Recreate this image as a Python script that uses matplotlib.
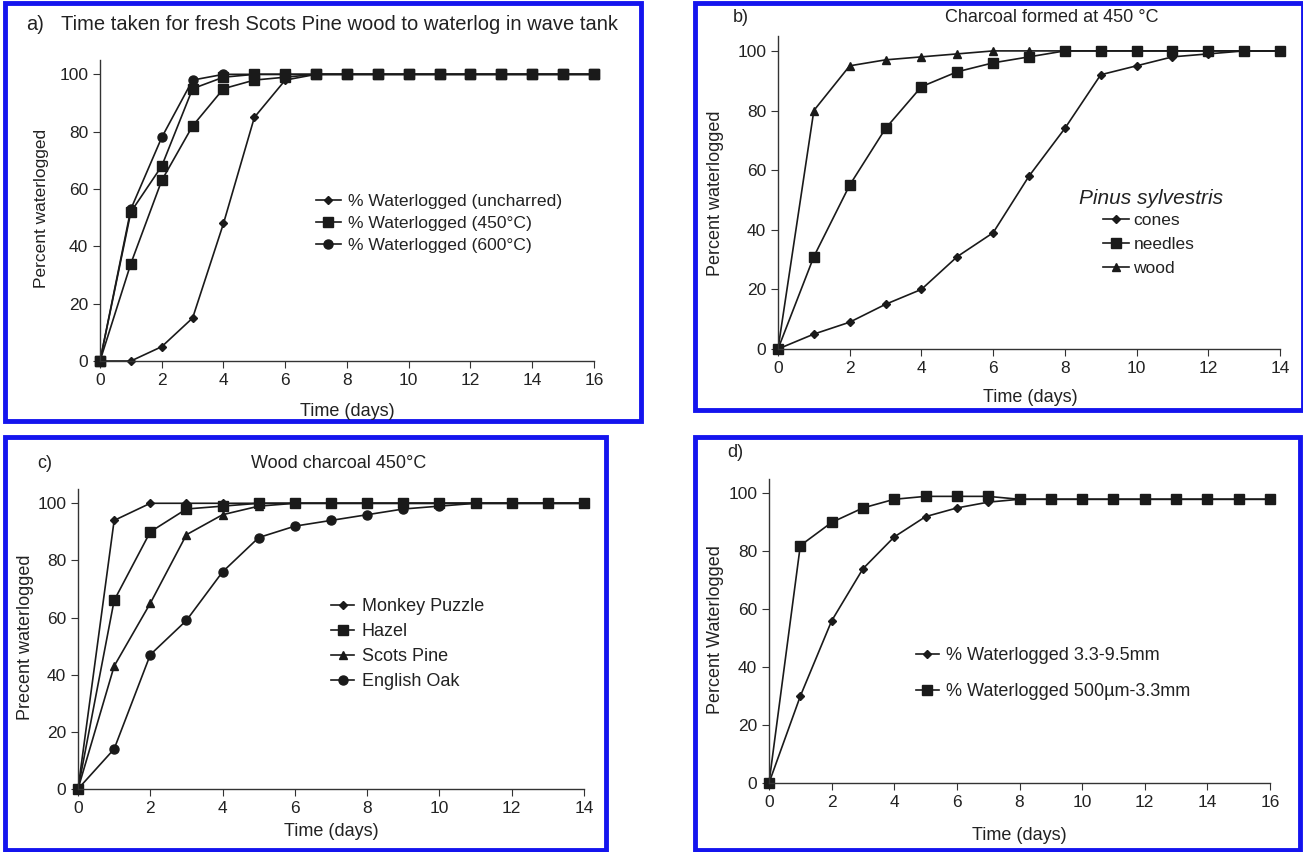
import numpy as np
import matplotlib
matplotlib.use("Agg")
import matplotlib.pyplot as plt
from matplotlib.patches import Rectangle

plt.rcParams['font.family'] = ['Liberation Sans', 'DejaVu Sans']

W, H = 1303, 852

# panel a
days_a = list(range(17))
a_uncharred = [0, 0, 5, 15, 48, 85, 98] + [100] * 10
a_450 = [0, 34, 63, 82, 95, 98, 99] + [100] * 10
a_450b = [0, 52, 68, 95, 99, 100, 100] + [100] * 10
a_600 = [0, 53, 78, 98, 100, 100, 100] + [100] * 10

# panel b
days_b = list(range(15))
b_cones = [0, 5, 9, 15, 20, 31, 39, 58, 74, 92, 95, 98, 99, 100, 100]
b_needles = [0, 31, 55, 74, 88, 93, 96, 98, 100, 100, 100, 100, 100, 100, 100]
b_wood = [0, 80, 95, 97, 98, 99, 100, 100, 100, 100, 100, 100, 100, 100, 100]

# panel c
days_c = list(range(15))
c_monkey = [0, 94, 100, 100, 100, 100, 100, 100, 100, 100, 100, 100, 100, 100, 100]
c_hazel = [0, 66, 90, 98, 99, 100, 100, 100, 100, 100, 100, 100, 100, 100, 100]
c_pine = [0, 43, 65, 89, 96, 99, 100, 100, 100, 100, 100, 100, 100, 100, 100]
c_oak = [0, 14, 47, 59, 76, 88, 92, 94, 96, 98, 99, 100, 100, 100, 100]

# panel d
days_d = list(range(17))
d_coarse = [0, 30, 56, 74, 85, 92, 95, 97] + [98] * 9
d_fine = [0, 82, 90, 95, 98, 99, 99, 99] + [98] * 9

TXT = '#222222'


def fx(x):
    return x / W


def fy(y):
    return 1 - y / H


def make_ax(l, t, r, b, xmax):
    ax = fig.add_axes([fx(l), fy(b), (r - l) / W, (b - t) / H])
    ax.set_xlim(0, xmax)
    ax.set_ylim(0, 105)
    ax.set_xticks(range(0, xmax + 1, 2))
    ax.set_yticks(range(0, 101, 20))
    ax.spines['top'].set_visible(False)
    ax.spines['right'].set_visible(False)
    for s in ['left', 'bottom']:
        ax.spines[s].set_color('#333333')
        ax.spines[s].set_linewidth(1.0)
    ax.tick_params(labelsize=12.5, length=5, color='#333333', labelcolor=TXT)
    return ax


def line(ax, x, y, m, ms, label=None):
    return ax.plot(x, y, color='#1a1a1a', lw=1.2, marker=m, ms=ms,
                   clip_on=False, label=label)[0]


def legend(ax, l, t, r, b, x, y, size, spacing, hl, pad, handles=None):
    kw = dict(loc='upper left', bbox_to_anchor=((x - l) / (r - l), (b - y) / (b - t)),
              frameon=False, fontsize=size, handlelength=hl, handletextpad=pad,
              borderpad=0, borderaxespad=0, labelspacing=spacing, labelcolor=TXT)
    if handles:
        ax.legend(handles, [h.get_label() for h in handles], **kw)
    else:
        ax.legend(**kw)


def border(x0, y0, x1, y1):
    fig.patches.append(Rectangle((fx(x0), fy(y1)), (x1 - x0) / W, (y1 - y0) / H,
                                 transform=fig.transFigure, fill=False,
                                 edgecolor='#1414ee', lw=3.5))


def ftext(x, y, s, **kw):
    kw.setdefault('color', TXT)
    kw.setdefault('va', 'center')
    fig.text(fx(x), fy(y), s, **kw)


fig = plt.figure(figsize=(W / 100, H / 100), dpi=100)

# ---- a)
box = (100, 60, 594, 361)
ax = make_ax(*box, 16)
h1 = line(ax, days_a, a_uncharred, 'D', 4.5, '% Waterlogged (uncharred)')
h3 = line(ax, days_a, a_600, 'o', 6.5, '% Waterlogged (600°C)')
line(ax, days_a, a_450b, 's', 6.5)
h2 = line(ax, days_a, a_450, 's', 6.5, '% Waterlogged (450°C)')
legend(ax, *box, 316, 194, 12.6, 0.38, 1.4, 0.4, handles=[h1, h2, h3])
ftext(26, 25, 'a)', fontsize=14.5)
ftext(61, 25, 'Time taken for fresh Scots Pine wood to waterlog in wave tank', fontsize=14.5)
ftext(42, 208, 'Percent waterlogged', rotation=90, fontsize=12.5, ha='center')
ftext(347, 411, 'Time (days)', fontsize=13, ha='center')
border(5, 3, 641, 421)

# ---- b)
box = (778, 36, 1280, 349)
ax = make_ax(*box, 14)
line(ax, days_b, b_cones, 'D', 4.5, 'cones')
line(ax, days_b, b_needles, 's', 6.5, 'needles')
line(ax, days_b, b_wood, '^', 6, 'wood')
legend(ax, *box, 1103, 213, 12.5, 0.5, 1.5, 0.25)
ftext(1079, 199, 'Pinus sylvestris', fontsize=15, style='italic')
ftext(733, 18, 'b)', fontsize=13)
ftext(1052, 18, 'Charcoal formed at 450 °C', fontsize=13, ha='center')
ftext(715, 193, 'Percent waterlogged', rotation=90, fontsize=13, ha='center')
ftext(1030, 398, 'Time (days)', fontsize=13, ha='center')
border(695, 3, 1303, 410)

# ---- c)
box = (78, 489, 584, 789)
ax = make_ax(*box, 14)
line(ax, days_c, c_monkey, 'D', 4.5, 'Monkey Puzzle')
line(ax, days_c, c_hazel, 's', 6.5, 'Hazel')
line(ax, days_c, c_pine, '^', 6, 'Scots Pine')
line(ax, days_c, c_oak, 'o', 6.5, 'English Oak')
legend(ax, *box, 331, 598, 13, 0.45, 1.3, 0.4)
ftext(37, 463, 'c)', fontsize=13)
ftext(339, 463, 'Wood charcoal 450°C', fontsize=13, ha='center')
ftext(26, 637, 'Precent waterlogged', rotation=90, fontsize=13, ha='center')
ftext(331, 832, 'Time (days)', fontsize=13, ha='center')
border(5, 437, 606, 850)

# ---- d)
box = (769, 479, 1270, 783)
ax = make_ax(*box, 16)
line(ax, days_d, d_coarse, 'D', 4.5, '% Waterlogged 3.3-9.5mm')
line(ax, days_d, d_fine, 's', 6.5, '% Waterlogged 500µm-3.3mm')
legend(ax, *box, 916, 647, 13, 1.05, 1.25, 0.4)
ftext(727, 453, 'd)', fontsize=13)
ftext(716, 630, 'Percent Waterlogged', rotation=90, fontsize=13, ha='center')
ftext(1019, 836, 'Time (days)', fontsize=13, ha='center')
border(695, 437, 1300, 850)

plt.savefig("out.png", dpi=100)
